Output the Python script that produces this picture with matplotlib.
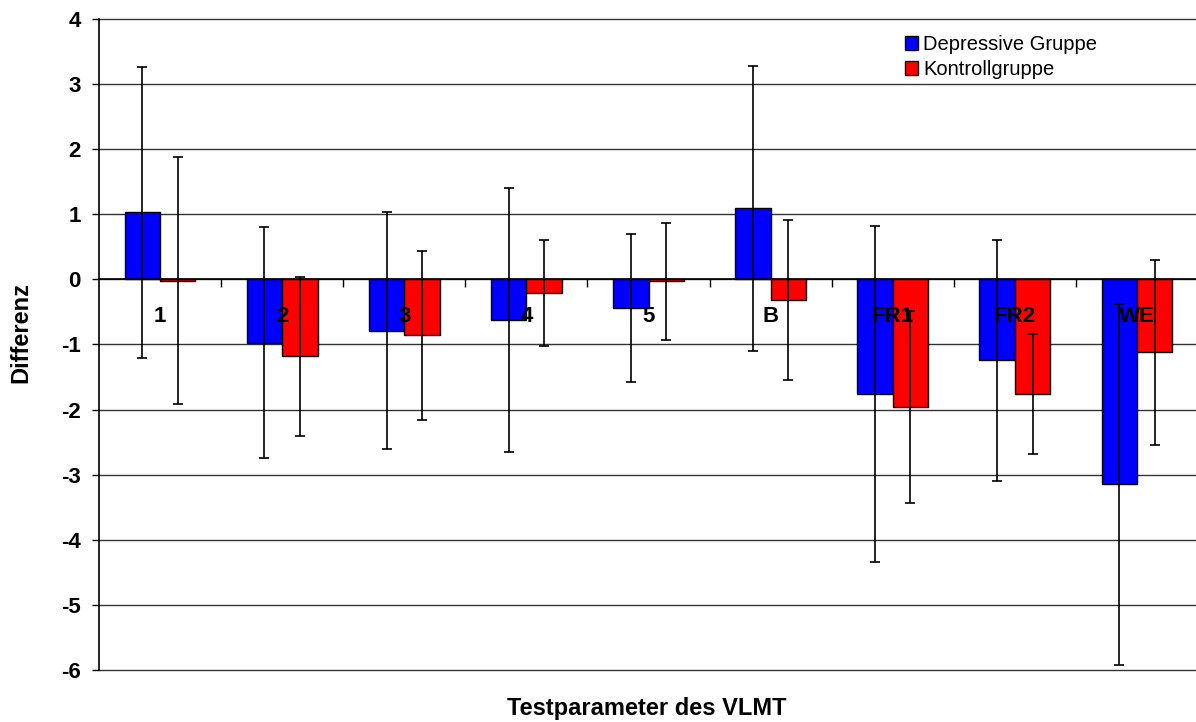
import numpy as np
import matplotlib
matplotlib.use("Agg")
import matplotlib.pyplot as plt

# ─── DATA ───────────────────────────────────────────────────────────────────
categories = ["1", "2", "3", "4", "5", "B", "FR1", "FR2", "WE"]
depressive = [1.03, -0.97, -0.79, -0.62, -0.44, 1.09, -1.76, -1.24, -3.15]
depressive_err = [2.23, 1.77, 1.82, 2.03, 1.13, 2.19, 2.58, 1.85, 2.77]
kontrolle = [-0.02, -1.18, -0.86, -0.21, -0.03, -0.31, -1.96, -1.76, -1.12]
kontrolle_err = [1.90, 1.22, 1.30, 0.82, 0.90, 1.23, 1.48, 0.92, 1.42]

plt.rcParams['font.family'] = ['Liberation Sans', 'DejaVu Sans']
plt.rcParams['axes.unicode_minus'] = False

# ─── FIGURE ─────────────────────────────────────────────────────────────────
fig = plt.figure(figsize=(11.96, 7.22), dpi=100)
ax = fig.add_axes([99 / 1196, 52 / 722, 1099 / 1196, 651 / 722])

x = np.arange(len(categories))
w = 0.29

ax.bar(x - w / 2, depressive, w, color='#0000FF', edgecolor='black', linewidth=1,
       label='Depressive Gruppe', zorder=2)
ax.bar(x + w / 2, kontrolle, w, color='#FF0000', edgecolor='black', linewidth=1,
       label='Kontrollgruppe', zorder=2)

# category labels sit just below the zero line, over the bars
for xi, cat in zip(x, categories):
    ax.annotate(cat, (xi, 0), xytext=(0, -37), textcoords='offset pixels',
                ha='center', va='center', fontsize=16, fontweight='bold', zorder=3)

ax.errorbar(x - w / 2, depressive, yerr=depressive_err, fmt='none', ecolor='black',
            elinewidth=1.2, capsize=3.3, capthick=1.2, zorder=4)
ax.errorbar(x + w / 2, kontrolle, yerr=kontrolle_err, fmt='none', ecolor='black',
            elinewidth=1.2, capsize=3.3, capthick=1.2, zorder=4)

ax.set_xlim(-0.5, len(categories) - 0.5)
ax.set_ylim(-6, 4)
ax.set_yticks(np.arange(-6, 5, 1))
ax.tick_params(axis='y', direction='out', length=5, width=1, pad=8,
               labelsize=16)
for lbl in ax.get_yticklabels():
    lbl.set_fontweight('bold')

# x axis on the zero line, ticks between categories
ax.spines['bottom'].set_position(('data', 0))
ax.spines['bottom'].set_linewidth(1.2)
ax.set_xticks(x[:-1] + 0.5)
ax.set_xticklabels([])
ax.tick_params(axis='x', direction='out', length=6, width=1)

ax.spines['top'].set_visible(False)
ax.spines['right'].set_visible(False)
ax.spines['left'].set_linewidth(1.2)

ax.set_axisbelow(True)
ax.yaxis.grid(True, color='#333333', linewidth=1)
ax.xaxis.grid(False)
for gl in ax.get_ygridlines():
    gl.set_clip_on(False)

fig.text(0.0176, 1 - 333 / 722, 'Differenz', rotation=90, ha='center', va='center',
         fontsize=17, fontweight='bold')
fig.text(647 / 1196, 1 - 708 / 722, 'Testparameter des VLMT', ha='center', va='center',
         fontsize=17, fontweight='bold')

ax.legend(loc='upper left', bbox_to_anchor=(905 / 1196, 1 - 35 / 722),
          bbox_transform=fig.transFigure, frameon=False, fontsize=14.5,
          handlelength=0.65, handleheight=0.65, handletextpad=0.25,
          labelspacing=0.3, borderpad=0, borderaxespad=0)

plt.savefig('out.png', dpi=100)
